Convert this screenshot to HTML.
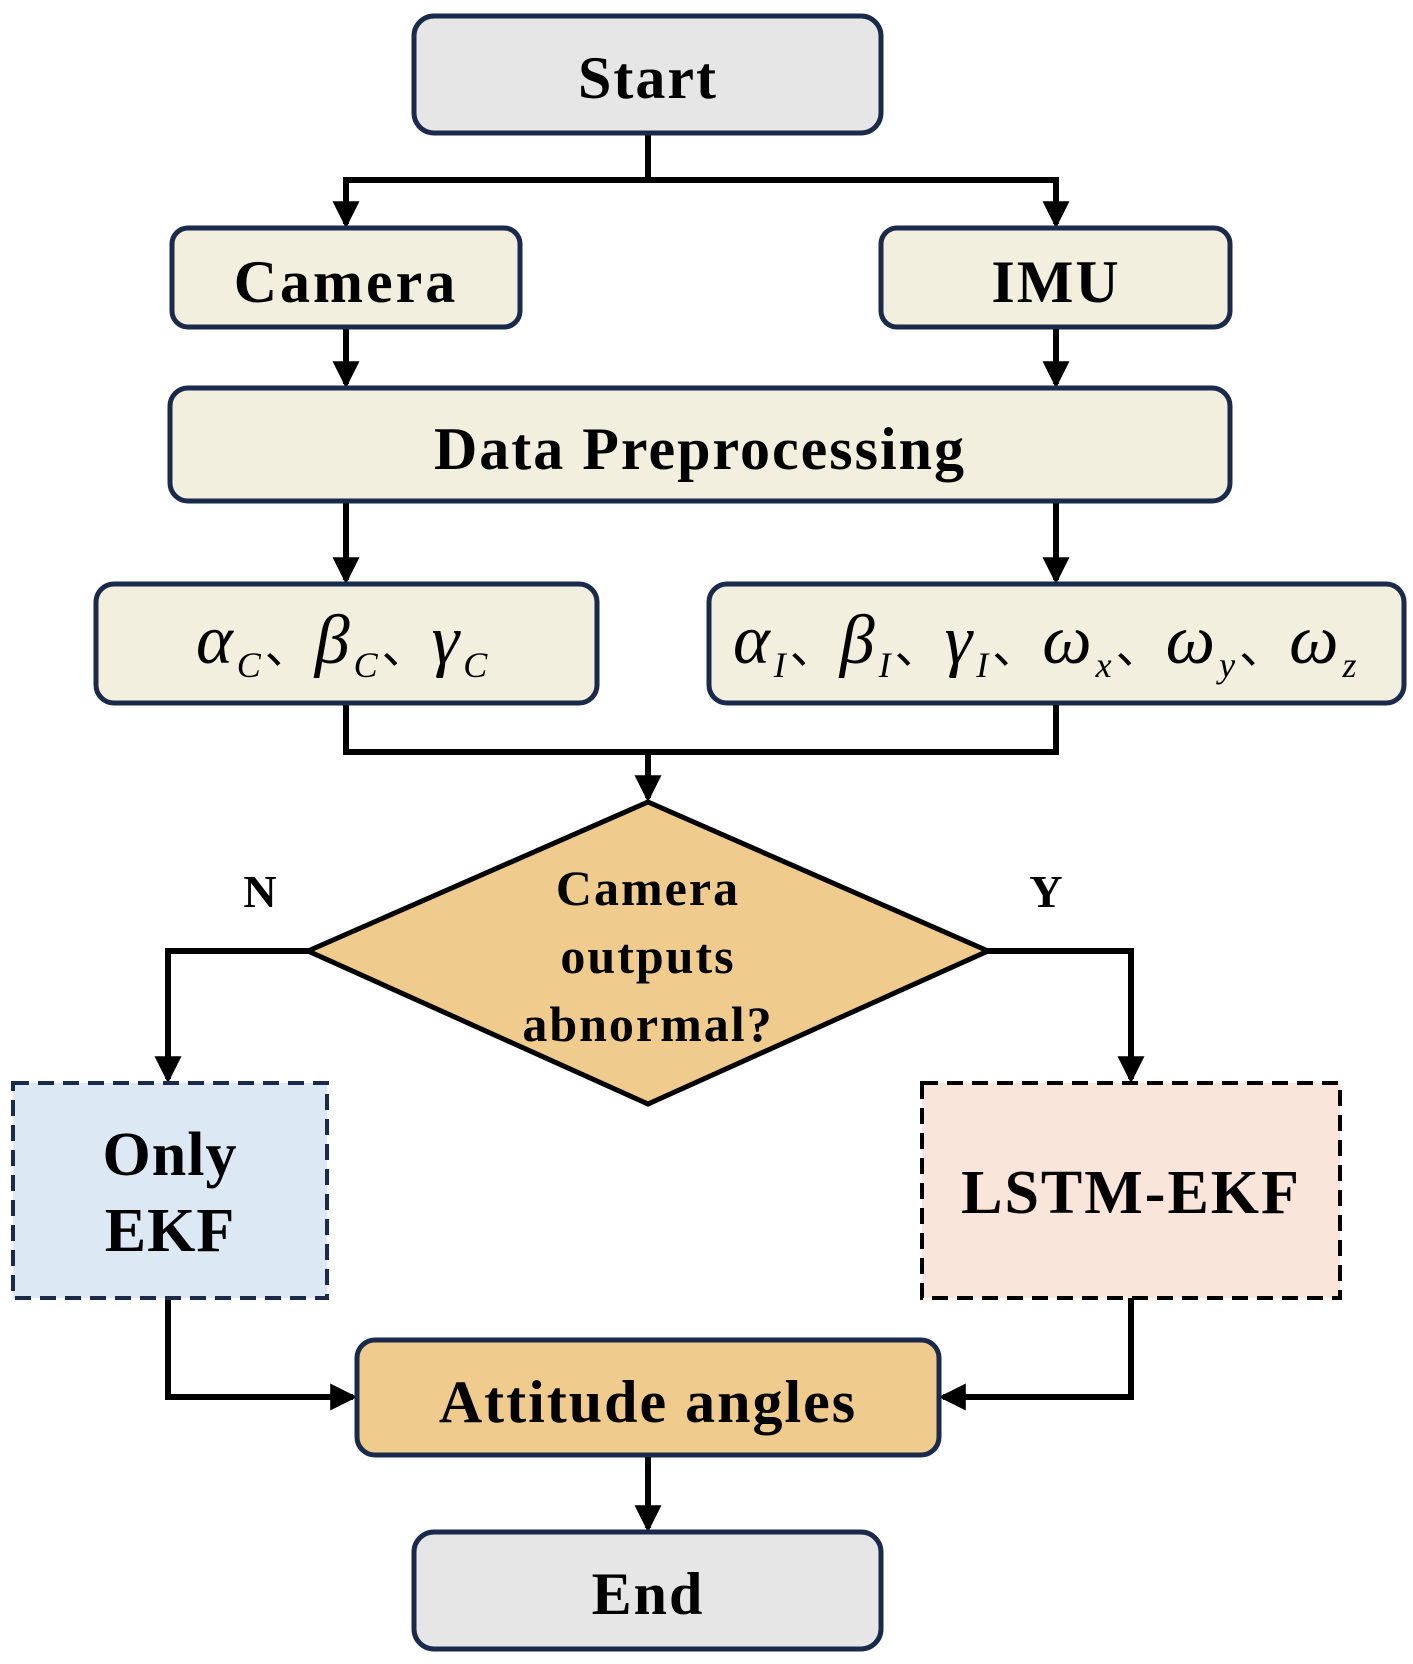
<!DOCTYPE html>
<html><head><meta charset="utf-8"><style>
html,body{margin:0;padding:0;background:#fff}
</style></head><body>
<svg width="1413" height="1659" viewBox="0 0 1413 1659" xmlns="http://www.w3.org/2000/svg" font-family="Liberation Serif, serif" font-weight="bold">
<defs><marker id="a" markerWidth="4.5" markerHeight="4.5" refX="3.8" refY="2.25" orient="auto" markerUnits="strokeWidth"><path d="M0,0 L4.5,2.25 L0,4.5 z" fill="#000"/></marker></defs>
<g stroke="#000" stroke-width="6" fill="none">
<path d="M648 133 V180 H346 V224" marker-end="url(#a)"/>
<path d="M648 180 H1056 V224" marker-end="url(#a)"/>
<path d="M346 327 V384" marker-end="url(#a)"/>
<path d="M1056 327 V384" marker-end="url(#a)"/>
<path d="M346 501 V580" marker-end="url(#a)"/>
<path d="M1056 501 V580" marker-end="url(#a)"/>
<path d="M346 703 V752 H1056 V703"/>
<path d="M648 752 V798" marker-end="url(#a)"/>
<path d="M308 951 H168 V1079" marker-end="url(#a)"/>
<path d="M988 951 H1131 V1079" marker-end="url(#a)"/>
<path d="M168 1298 V1397 H353" marker-end="url(#a)"/>
<path d="M1131 1298 V1397 H943" marker-end="url(#a)"/>
<path d="M648 1455 V1528" marker-end="url(#a)"/>
</g>
<g stroke="#1a2a4a" stroke-width="5">
<rect x="414" y="16" width="467" height="117" rx="20" fill="#e6e6e6"/>
<rect x="172" y="228" width="348" height="99" rx="16" fill="#f2efdf"/>
<rect x="881" y="228" width="349" height="99" rx="16" fill="#f2efdf"/>
<rect x="170" y="388" width="1060" height="113" rx="18" fill="#f2efdf"/>
<rect x="96" y="584" width="501" height="119" rx="18" fill="#f2efdf"/>
<rect x="709" y="584" width="695" height="119" rx="18" fill="#f2efdf"/>
<rect x="357" y="1340" width="582" height="115" rx="18" fill="#f0cb8e"/>
<rect x="414" y="1532" width="467" height="117" rx="20" fill="#e6e6e6"/>
</g>
<path d="M648 802 L988 951 L648 1104 L308 951 Z" fill="#f0cb8e" stroke="#000" stroke-width="5"/>
<rect x="13" y="1083" width="314" height="215" fill="#dde8f5" stroke="#1a2a4a" stroke-width="4" stroke-dasharray="16,9"/>
<rect x="922" y="1083" width="418" height="215" fill="#fae5da" stroke="#000" stroke-width="4" stroke-dasharray="16,9"/>
<g text-anchor="middle" fill="#000">
<text x="648" y="98" font-size="60" letter-spacing="2">Start</text>
<text x="346" y="302" font-size="60" letter-spacing="3">Camera</text>
<text x="1056" y="302" font-size="60" letter-spacing="2">IMU</text>
<text x="700" y="469" font-size="60" letter-spacing="2">Data Preprocessing</text>
<text x="648" y="905" font-size="50" letter-spacing="2">Camera</text>
<text x="648" y="973" font-size="50" letter-spacing="2">outputs</text>
<text x="648" y="1041" font-size="50" letter-spacing="2">abnormal?</text>
<text x="260" y="907" font-size="46">N</text>
<text x="1046" y="907" font-size="46">Y</text>
<text x="170" y="1175" font-size="62" letter-spacing="1">Only</text>
<text x="170" y="1251" font-size="62" letter-spacing="1">EKF</text>
<text x="1131" y="1213" font-size="62" letter-spacing="2">LSTM-EKF</text>
<text x="648" y="1422" font-size="60" letter-spacing="2">Attitude angles</text>
<text x="648" y="1614" font-size="60" letter-spacing="2">End</text>
</g>
<g font-weight="normal" font-style="italic" fill="#000" font-size="70" letter-spacing="4">
<text x="196" y="663">α<tspan font-size="36" dy="14">C</tspan><tspan dy="-14" font-style="normal" font-size="46">、</tspan>β<tspan font-size="36" dy="14">C</tspan><tspan dy="-14" font-style="normal" font-size="46">、</tspan>γ<tspan font-size="36" dy="14">C</tspan></text>
<text x="733" y="663">α<tspan font-size="36" dy="14">I</tspan><tspan dy="-14" font-style="normal" font-size="46">、</tspan>β<tspan font-size="36" dy="14">I</tspan><tspan dy="-14" font-style="normal" font-size="46">、</tspan>γ<tspan font-size="36" dy="14">I</tspan><tspan dy="-14" font-style="normal" font-size="46">、</tspan>ω<tspan font-size="36" dy="14">x</tspan><tspan dy="-14" font-style="normal" font-size="46">、</tspan>ω<tspan font-size="36" dy="14">y</tspan><tspan dy="-14" font-style="normal" font-size="46">、</tspan>ω<tspan font-size="36" dy="14">z</tspan></text>
</g>
</svg>
</body></html>
